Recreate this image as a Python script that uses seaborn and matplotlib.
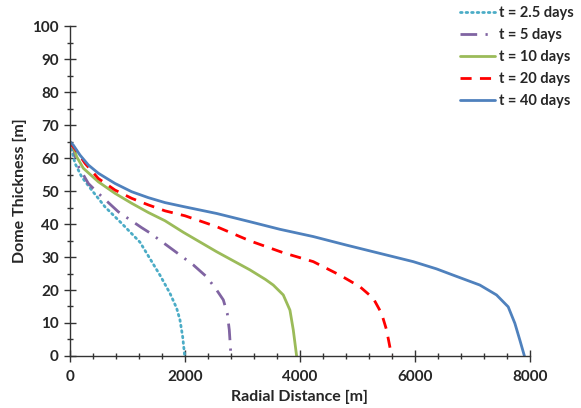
import numpy as np
import pandas as pd
import matplotlib
matplotlib.use("Agg")
import matplotlib.pyplot as plt
import seaborn as sns
from matplotlib.ticker import MultipleLocator

labels = ["t = 2.5 days", "t = 5 days", "t = 10 days", "t = 20 days", "t = 40 days"]
colors = ["#4BACC6", "#8064A2", "#9BBB59", "#FF0000", "#4F81BD"]

x_25 = [0, 30, 87, 203, 377, 609, 899, 1217, 1391, 1565, 1739, 1855, 1913, 1960, 1995]
y_25 = [64.5, 62.5, 58.4, 54.3, 50.3, 45.2, 40.2, 34.5, 29.5, 24.5, 19.0, 14.5, 10.9, 5.8, 0]

x_5 = [0, 58, 116, 319, 493, 841, 1246, 1391, 1797, 2145, 2377, 2551, 2667, 2736, 2771, 2800]
y_5 = [64.5, 63.4, 58.4, 52.3, 49.3, 43.7, 38.9, 37.3, 32.1, 27.6, 24.0, 20.0, 17.0, 12.9, 7.9, 0]

x_10 = [0, 58, 116, 232, 493, 783, 1072, 1362, 1652, 1971, 2551, 3130, 3400, 3536, 3710, 3826, 3884, 3942]
y_10 = [64.5, 63.4, 60.4, 56.9, 52.8, 49.3, 46.3, 43.5, 41.0, 37.5, 31.6, 26.1, 23.2, 21.5, 18.5, 13.9, 7.9, 0]

x_20 = [0, 58, 145, 261, 493, 783, 1072, 1362, 1652, 2000, 2551, 3130, 3710, 4232, 4696, 5043, 5275, 5420, 5507, 5595]
y_20 = [64.5, 63.4, 61.4, 58.4, 53.8, 50.3, 47.8, 45.8, 44.0, 42.5, 39.2, 34.9, 31.3, 28.6, 24.5, 21.0, 17.5, 12.9, 7.9, 0]

x_40 = [0, 58, 174, 319, 493, 783, 1072, 1362, 1652, 1971, 2551, 3130, 3652, 4232, 4812, 5391, 5971, 6377, 6667, 7130, 7420, 7623, 7739, 7826, 7905]
y_40 = [65.0, 63.9, 60.9, 57.9, 55.4, 52.3, 49.8, 48.0, 46.5, 45.3, 43.2, 40.7, 38.4, 36.2, 33.6, 31.1, 28.6, 26.4, 24.5, 21.5, 18.5, 14.9, 9.9, 4.8, 0]

series_x = [x_25, x_5, x_10, x_20, x_40]
series_y = [y_25, y_5, y_10, y_20, y_40]
dashes = [(0.6, 1.4), (6, 3, 0.8, 3), (), (4, 3), ()]

sns.set_style("ticks")
plt.rcParams["font.family"] = ["Lato", "DejaVu Sans"]
plt.rcParams["font.weight"] = "bold"

fig = plt.figure(figsize=(5.81, 4.08), dpi=100)
ax = fig.add_axes([0.1205, 0.1275, 0.7915, 0.8085])

for lab, col, xs, ys, d in zip(labels, colors, series_x, series_y, dashes):
    df = pd.DataFrame({"x": xs, "y": ys})
    sns.lineplot(data=df, x="x", y="y", ax=ax, color=col, lw=2.0, sort=False,
                 estimator=None, label=lab)
    line = ax.get_lines()[-1]
    line.set_solid_joinstyle("round")
    if d:
        line.set_dashes(d)
        if lab == "t = 2.5 days":
            line.set_dash_capstyle("round")

ax.set_xlim(0, 8000)
ax.set_ylim(0, 100)
ax.xaxis.set_major_locator(MultipleLocator(2000))
ax.xaxis.set_minor_locator(MultipleLocator(400))
ax.yaxis.set_major_locator(MultipleLocator(10))
ax.yaxis.set_minor_locator(MultipleLocator(5))
ax.tick_params(which="major", direction="inout", length=8, width=1, labelsize=11, color="#333333", pad=4)
ax.tick_params(which="minor", direction="inout", length=5, width=1, color="#333333")
for lab in ax.get_xticklabels() + ax.get_yticklabels():
    lab.set_fontweight("bold")
ax.tick_params(axis="x", pad=6)
sns.despine(ax=ax)
for s in ["left", "bottom"]:
    ax.spines[s].set_color("#333333")
    ax.spines[s].set_linewidth(1)
ax.set_xlabel("Radial Distance [m]", fontsize=11.5, fontweight="bold", labelpad=4)
ax.set_ylabel("Dome Thickness [m]", fontsize=11.5, fontweight="bold", labelpad=4)

if ax.legend_:
    ax.legend_.remove()
handles = ax.get_lines()[:5]
fig.legend(handles, labels, loc="upper right", bbox_to_anchor=(1.005, 1.01), frameon=False,
           prop={"weight": "bold", "size": 10.5}, handlelength=2.4, handletextpad=0.3,
           labelspacing=0.55, borderaxespad=0.3)

fig.savefig("out.png", dpi=100)
